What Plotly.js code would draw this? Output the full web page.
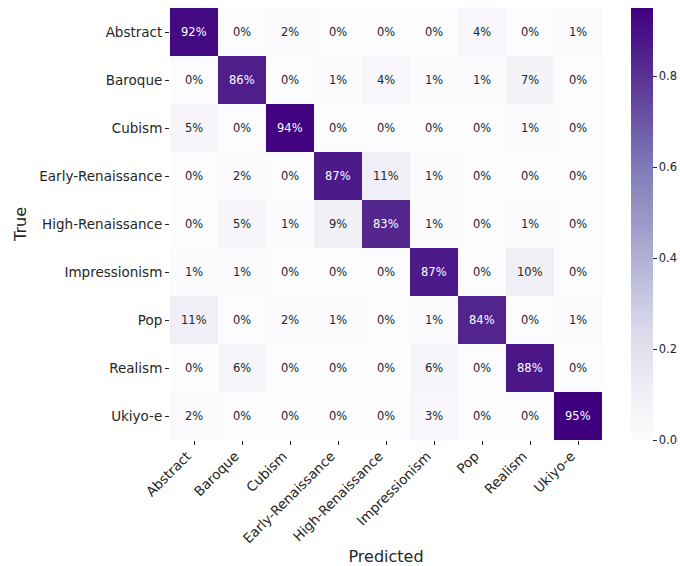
<!DOCTYPE html>
<html>
<head>
<meta charset="utf-8">
<script src="https://cdn.plot.ly/plotly-3.0.1.min.js"></script>
<style>html,body{margin:0;padding:0;background:#fff;}#chart{width:680px;height:566px;}</style>
</head>
<body>
<div id="chart"></div>
<script>
const categories = ["Abstract","Baroque","Cubism","Early-Renaissance","High-Renaissance","Impressionism","Pop","Realism","Ukiyo-e"];
const row_abstract   = [0.92,0.00,0.02,0.00,0.00,0.00,0.04,0.00,0.01];
const row_baroque    = [0.00,0.86,0.00,0.01,0.04,0.01,0.01,0.07,0.00];
const row_cubism     = [0.05,0.00,0.94,0.00,0.00,0.00,0.00,0.01,0.00];
const row_early      = [0.00,0.02,0.00,0.87,0.11,0.01,0.00,0.00,0.00];
const row_high       = [0.00,0.05,0.01,0.09,0.83,0.01,0.00,0.01,0.00];
const row_impress    = [0.01,0.01,0.00,0.00,0.00,0.87,0.00,0.10,0.00];
const row_pop        = [0.11,0.00,0.02,0.01,0.00,0.01,0.84,0.00,0.01];
const row_realism    = [0.00,0.06,0.00,0.00,0.00,0.06,0.00,0.88,0.00];
const row_ukiyoe     = [0.02,0.00,0.00,0.00,0.00,0.03,0.00,0.00,0.95];
const z = [row_abstract,row_baroque,row_cubism,row_early,row_high,row_impress,row_pop,row_realism,row_ukiyoe];
const colorbarTicks = [0,0.2,0.4,0.6,0.8];

const purples = [
  [0.0,'#fcfbfd'],[0.125,'#efedf5'],[0.25,'#dadaeb'],[0.375,'#bcbddc'],
  [0.5,'#9e9ac8'],[0.625,'#807dba'],[0.75,'#6a51a3'],[0.875,'#54278f'],[1.0,'#3f007d']
];
const zmax = Math.max(...z.flat());

const annotations = [];
z.forEach((row,i)=>row.forEach((v,j)=>{
  annotations.push({
    x: categories[j], y: categories[i], xref:'x', yref:'y',
    text: Math.round(v*100)+'%', showarrow:false,
    font:{family:'DejaVu Sans', size:11.5, color: v/zmax>0.5 ? '#ffffff' : '#262626'}
  });
}));

const trace = {
  type:'heatmap', x:categories, y:categories, z:z,
  colorscale:purples, zmin:0, zmax:zmax, hoverongaps:false,
  colorbar:{
    x:631/680, xanchor:'left', xref:'container',
    y:0.5, yanchor:'middle', yref:'paper',
    len:1, lenmode:'fraction',
    thickness:22, thicknessmode:'pixels', outlinewidth:0,
    tickvals:colorbarTicks, ticktext:colorbarTicks.map(t=>t.toFixed(1)),
    ticks:'outside', ticklen:4, tickcolor:'#262626', tickwidth:1,
    tickfont:{family:'DejaVu Sans', size:11.5, color:'#262626'}, xpad:0, ypad:0
  }
};

const layout = {
  width:680, height:566,
  margin:{l:170, r:78, t:8, b:126, autoexpand:false},
  paper_bgcolor:'#ffffff', plot_bgcolor:'#ffffff',
  font:{family:'DejaVu Sans', color:'#262626'},
  xaxis:{
    type:'category', tickangle:-45, ticks:'outside', ticklen:4, tickcolor:'#262626',
    ticklabelshift:-7, ticklabelstandoff:-2,
    tickfont:{family:'DejaVu Sans', size:13.5, color:'#262626'},
    showgrid:false, zeroline:false, showline:false,
    title:{text:'Predicted', font:{family:'DejaVu Sans', size:16, color:'#262626'}, standoff:8}
  },
  yaxis:{
    type:'category', autorange:'reversed', ticks:'outside', ticklen:4, tickcolor:'#262626',
    tickfont:{family:'DejaVu Sans', size:13.5, color:'#262626'},
    showgrid:false, zeroline:false, showline:false,
    title:{text:'True', font:{family:'DejaVu Sans', size:16, color:'#262626'}, standoff:8}
  },
  annotations:annotations
};

Plotly.newPlot('chart',[trace],layout,{displayModeBar:false, staticPlot:true});
</script>
</body>
</html>
